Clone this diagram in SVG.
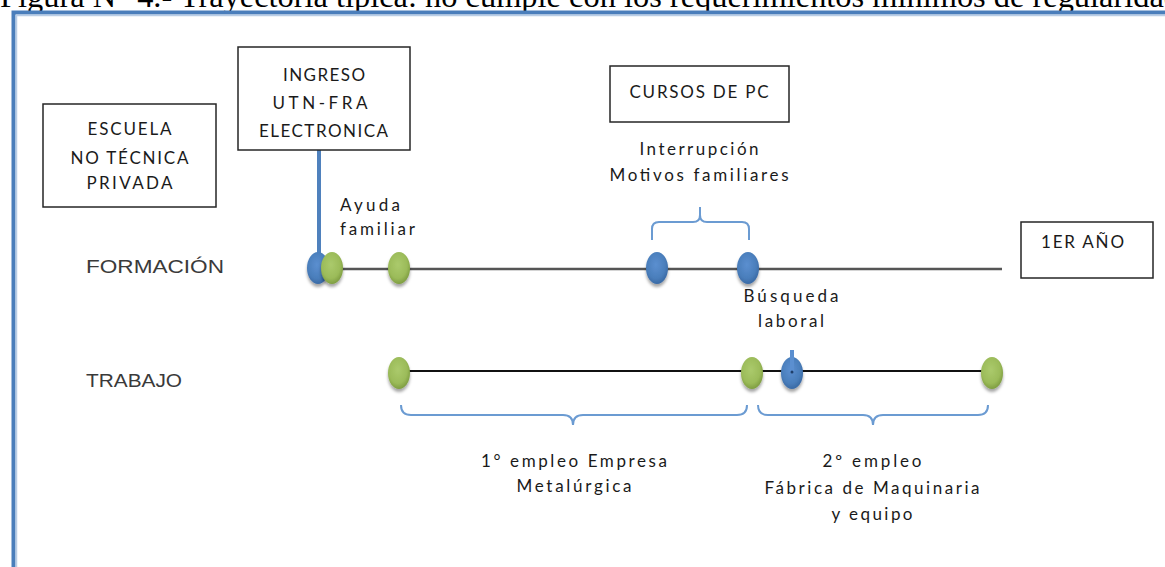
<svg xmlns="http://www.w3.org/2000/svg" width="1165" height="567" viewBox="0 0 1165 567">
<defs>
<radialGradient id="gGreen" cx="0.45" cy="0.4" r="0.6">
<stop offset="0" stop-color="#abca6c"/>
<stop offset="0.7" stop-color="#9bbb59"/>
<stop offset="1" stop-color="#7f9e42"/>
</radialGradient>
<radialGradient id="gBlue" cx="0.45" cy="0.4" r="0.6">
<stop offset="0" stop-color="#5b8fd0"/>
<stop offset="0.7" stop-color="#4a7ebb"/>
<stop offset="1" stop-color="#3a6aa5"/>
</radialGradient>
<filter id="sh" x="-50%" y="-50%" width="200%" height="200%">
<feGaussianBlur in="SourceAlpha" stdDeviation="1.5"/>
<feOffset dy="3" result="b"/>
<feFlood flood-color="#000" flood-opacity="0.35"/>
<feComposite in2="b" operator="in"/>
<feMerge><feMergeNode/><feMergeNode in="SourceGraphic"/></feMerge>
</filter>
<style>
.box{fill:#fff;stroke:#262626;stroke-width:1.5}
.t{font-family:Lato,"Open Sans","Liberation Sans",sans-serif;font-size:17px;fill:#1a1a1a}
.tc{text-anchor:middle}
.lab{font-family:"Liberation Sans",Arial,sans-serif;font-size:19px;fill:#3a3a3a}
.cap{font-family:"Liberation Serif","Times New Roman",serif;font-size:32px;fill:#000}
.green{fill:url(#gGreen);filter:url(#sh)}
.blue{fill:url(#gBlue);filter:url(#sh)}
.brace{fill:none;stroke:#6b9bd2;stroke-width:2}
</style>
</defs>
<rect width="1165" height="567" fill="#fff"/>
<g id="caption">
<text class="cap" x="0" y="7" textLength="1180" lengthAdjust="spacingAndGlyphs">Figura N° 4.-  Trayectoria típica: no cumple con los requerimientos mínimos de regularidad</text>
</g>
<g id="frame">
<path d="M13.5,567 V12.5 H1165" fill="none" stroke="#4a7ebb" stroke-width="4"/>
<path d="M16.5,567 V15.5 H1165" fill="none" stroke="#b9cde6" stroke-width="1.5"/>
</g>
<g id="connectors">
<line x1="318" y1="269" x2="1002" y2="269" stroke="#555" stroke-width="2.5"/>
<line x1="399" y1="371" x2="992" y2="371" stroke="#111" stroke-width="2"/>
<line x1="319" y1="150" x2="319" y2="262" stroke="#4f81bd" stroke-width="4"/>
<path class="brace" d="M652,240 V229 Q652,222 659,222 H693 Q700,222 700,215 V207 M700,215 Q700,222 707,222 H742 Q749,222 749,229 V240"/>
<path class="brace" d="M401,405 Q401,415 411,415 H563 Q573,415 573,425 Q573,415 583,415 H737 Q747,415 747,405"/>
<path class="brace" d="M758,405 Q758,415 768,415 H863 Q873,415 873,425 Q873,415 883,415 H978 Q988,415 988,405"/>
</g>
<g id="escuela">
<rect class="box" x="43" y="104" width="173" height="103"/>
<text class="t tc" x="129.5" y="135" textLength="84">ESCUELA</text>
<text class="t tc" x="129.5" y="164" textLength="118">NO TÉCNICA</text>
<text class="t tc" x="129.5" y="189" textLength="86">PRIVADA</text>
</g>
<g id="ingreso">
<rect class="box" x="238" y="47" width="172" height="103"/>
<text class="t tc" x="324" y="81" textLength="82">INGRESO</text>
<text class="t tc" x="320" y="109" textLength="95">UTN-FRA</text>
<text class="t tc" x="323.5" y="137" textLength="129">ELECTRONICA</text>
</g>
<g id="cursos">
<rect class="box" x="610" y="66" width="179" height="56"/>
<text class="t tc" x="699" y="98" textLength="139">CURSOS DE PC</text>
</g>
<g id="anio">
<rect class="box" x="1021" y="222" width="132" height="56"/>
<text class="t" x="1041" y="248" textLength="83">1ER AÑO</text>
</g>
<g id="labels">
<text class="lab" x="86" y="273" textLength="138" lengthAdjust="spacingAndGlyphs">FORMACIÓN</text>
<text class="lab" x="86" y="387" textLength="96" lengthAdjust="spacingAndGlyphs">TRABAJO</text>
<text class="t" x="340" y="211" textLength="60">Ayuda</text>
<text class="t" x="340" y="235" textLength="75">familiar</text>
<text class="t tc" x="699" y="155" textLength="119">Interrupción</text>
<text class="t tc" x="699" y="181" textLength="179">Motivos familiares</text>
<text class="t tc" x="791" y="302" textLength="95">Búsqueda</text>
<text class="t tc" x="791" y="327" textLength="66">laboral</text>
<text class="t tc" x="574" y="467" textLength="186">1° empleo Empresa</text>
<text class="t tc" x="574" y="492" textLength="115">Metalúrgica</text>
<text class="t tc" x="872" y="467" textLength="99">2º empleo</text>
<text class="t tc" x="872" y="494" textLength="215">Fábrica de Maquinaria</text>
<text class="t tc" x="872" y="520" textLength="81">y equipo</text>
</g>
<g id="dot-f1"><ellipse class="blue" cx="318" cy="268" rx="11" ry="16"/></g>
<g id="dot-f2"><ellipse class="green" cx="332" cy="268" rx="11" ry="16"/></g>
<g id="dot-f3"><ellipse class="green" cx="399" cy="268" rx="11" ry="16"/></g>
<g id="dot-f4"><ellipse class="blue" cx="657" cy="268" rx="11" ry="16"/></g>
<g id="dot-f5"><ellipse class="blue" cx="748" cy="268" rx="11" ry="16"/></g>
<g id="dot-t1"><ellipse class="green" cx="399" cy="373" rx="11" ry="16"/></g>
<g id="dot-t2"><ellipse class="green" cx="752" cy="373" rx="11" ry="16"/></g>
<g id="dot-t3"><ellipse class="blue" cx="792" cy="373" rx="11" ry="16"/>
<rect x="790" y="350" width="4" height="22" fill="#5b8fd0"/><circle cx="792" cy="372" r="1.5" fill="#1f3f6a"/></g>
<g id="dot-t4"><ellipse class="green" cx="992" cy="373" rx="11" ry="16"/></g>
</svg>
